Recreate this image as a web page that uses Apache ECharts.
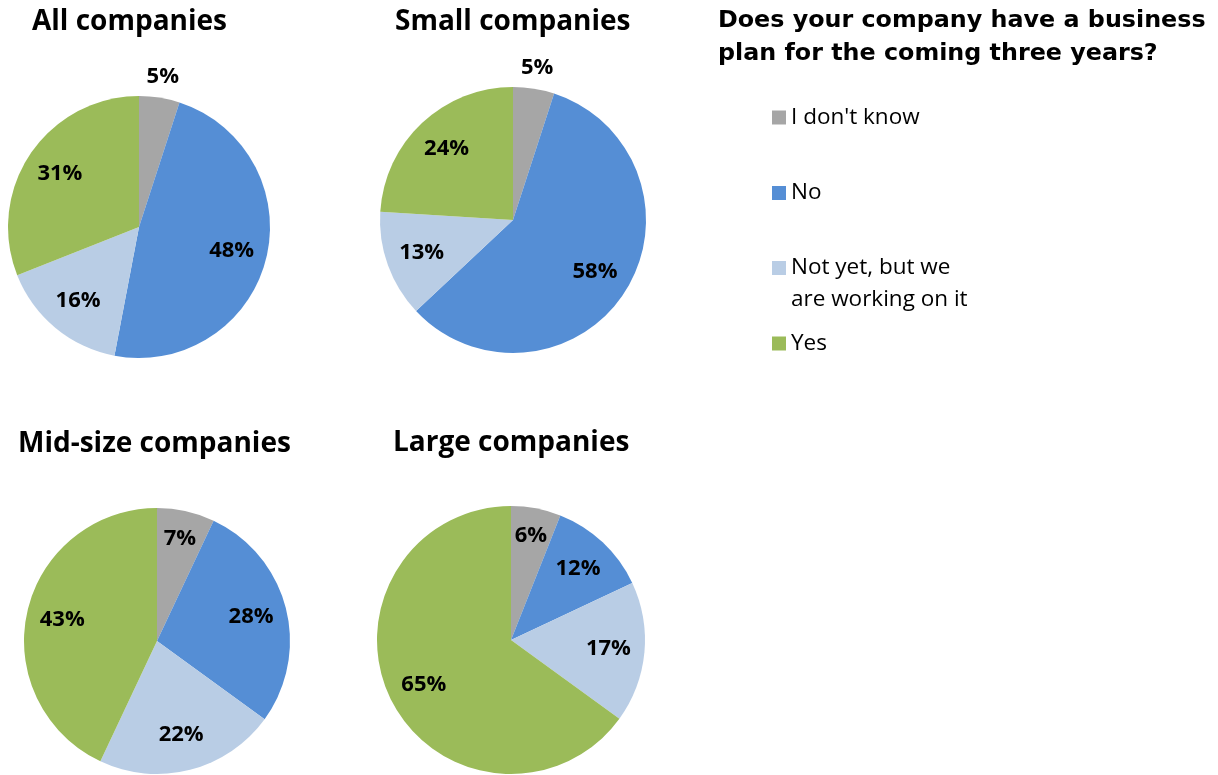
<!DOCTYPE html>
<html>
<head>
<meta charset="utf-8">
<title>Business plan survey</title>
<script src="https://cdn.jsdelivr.net/npm/echarts@6/dist/echarts.min.js"></script>
<style>
  html, body { margin: 0; padding: 0; background: #ffffff; }
  #chart { width: 1218px; height: 775px; }
</style>
</head>
<body>
<div id="chart"></div>
<script>
// Survey answers (slice order, clockwise from 12 o'clock)
const answers = ["I don't know", "No", "Not yet, but we are working on it", "Yes"];

// Company groups, one pie each
const groups = ["All companies", "Small companies", "Mid-size companies", "Large companies"];

// Share of answers per group, in percent
const allCompanies = [5, 48, 16, 31];
const smallCompanies = [5, 58, 13, 24];
const midsizeCompanies = [7, 28, 22, 43];
const largeCompanies = [6, 12, 17, 65];

const question = "Does your company have a business\nplan for the coming three years?";

// ---- styling / layout ----
const sliceColors = ['#A6A6A6', '#558ED5', '#B9CDE5', '#9BBB59'];
const groupValues = [allCompanies, smallCompanies, midsizeCompanies, largeCompanies];
const pieLayout = [
  { center: [139, 227], r: 131, titleLeft: 32, titleTop: 3 },
  { center: [513, 220], r: 133, titleLeft: 395, titleTop: 3 },
  { center: [157, 641], r: 133, titleLeft: 18, titleTop: 425 },
  { center: [511, 640], r: 134, titleLeft: 393, titleTop: 424 }
];
const legendCenters = [117.5, 193, 268, 343.5];

const FONT_TITLE = '"Open Sans", sans-serif';

// the long answer wraps onto two lines; a leading empty line keeps the
// marker level with the first line of text
function wrapAnswer(name) {
  return name === answers[2] ? '\nNot yet, but we\nare working on it' : name;
}

const titles = groups.map((g, i) => ({
  text: g,
  left: pieLayout[i].titleLeft,
  top: pieLayout[i].titleTop,
  padding: 0,
  textStyle: {
    fontFamily: FONT_TITLE, fontWeight: 'bold', fontSize: 28,
    lineHeight: 38, color: '#000000'
  }
}));
titles.push({
  text: question,
  left: 718,
  top: 4,
  padding: 0,
  textStyle: {
    fontFamily: '"DejaVu Sans", sans-serif', fontWeight: 'bold', fontSize: 23.8,
    lineHeight: 33, color: '#000000'
  }
});

const legends = answers.map((name, i) => {
  const multi = name === answers[2];
  return {
    data: [name],
    left: 772,
    top: legendCenters[i] - (multi ? 48 : 16),
    padding: 0,
    orient: 'vertical',
    icon: 'rect',
    itemWidth: 14,
    itemHeight: 14,
    selectedMode: false,
    formatter: wrapAnswer,
    textStyle: {
      fontFamily: '"Open Sans", sans-serif', fontSize: 22.5, lineHeight: 32,
      color: '#000000'
    }
  };
});

const series = groups.map((g, i) => {
  const lay = pieLayout[i];
  const vals = groupValues[i];
  return {
    name: g,
    type: 'pie',
    center: lay.center,
    radius: [0, lay.r],
    startAngle: 90,
    clockwise: true,
    avoidLabelOverlap: false,
    silent: true,
    data: answers.map((a, j) => ({ name: a, value: vals[j] })),
    itemStyle: { borderWidth: 0 },
    label: {
      show: true,
      position: 'inside',
      formatter: '{c}%',
      fontFamily: FONT_TITLE,
      fontWeight: 'bold',
      fontSize: 22,
      color: '#000000'
    },
    labelLine: { show: false },
    // push labels outward along the slice bisector; very thin slices get their label outside the pie
    labelLayout: function (p) {
      const cx = lay.center[0], cy = lay.center[1];
      const lx = p.labelRect.x + p.labelRect.width / 2;
      const ly = p.labelRect.y + p.labelRect.height / 2;
      const dx = lx - cx, dy = ly - cy;
      const d = Math.hypot(dx, dy) || 1;
      const v = vals[p.dataIndex];
      const k = v < 6 ? 1.16 : (v < 10 ? 0.79 : 0.73);
      return { x: cx + dx / d * lay.r * k, y: cy + dy / d * lay.r * k };
    }
  };
});

const chart = echarts.init(document.getElementById('chart'), null, { renderer: 'canvas' });
chart.setOption({
  backgroundColor: '#ffffff',
  animation: false,
  color: sliceColors,
  title: titles,
  legend: legends,
  series: series
});
</script>
</body>
</html>
